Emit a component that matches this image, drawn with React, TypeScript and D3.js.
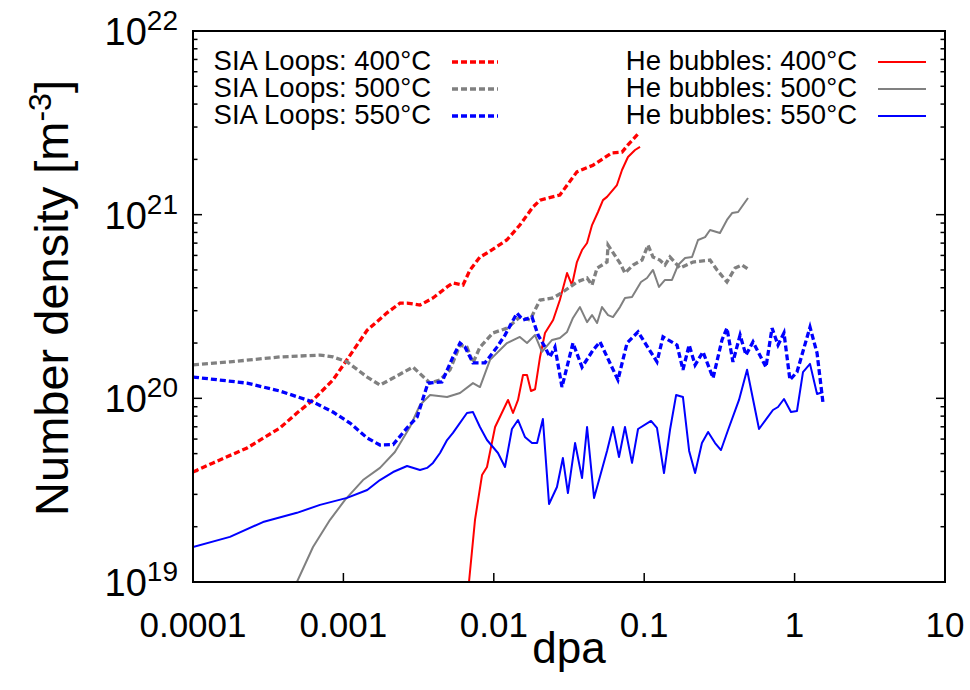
import React from 'react';
import * as d3 from 'd3';

type P = [number, number];

const xTickValues = [1e-4, 1e-3, 1e-2, 1e-1, 1, 10];
const xTickLabels = ['0.0001', '0.001', '0.01', '0.1', '1', '10'];
const yTickExponents = [19, 20, 21, 22];

const siaLabels = ['SIA Loops: 400°C', 'SIA Loops: 500°C', 'SIA Loops: 550°C'];
const heLabels = ['He bubbles: 400°C', 'He bubbles: 500°C', 'He bubbles: 550°C'];
const seriesColors = ['#ff0000', '#808080', '#0000ff'];

const sia400: P[] = [
  [1e-4, 3.97e19], [1.36e-4, 4.45e19], [2.29e-4, 5.37e19], [3.78e-4, 6.89e19], [4.91e-4, 8.32e19],
  [6.28e-4, 9.8e19], [8.53e-4, 1.26e20], [1.0e-3, 1.52e20], [1.44e-3, 2.35e20], [1.95e-3, 2.92e20],
  [2.38e-3, 3.3e20], [2.65e-3, 3.3e20], [3.23e-3, 3.22e20], [3.94e-3, 3.52e20], [4.89e-3, 4.04e20],
  [5.36e-3, 4.25e20], [6.24e-3, 4.14e20], [6.95e-3, 5.0e20], [8.09e-3, 5.88e20], [9.01e-3, 6.18e20],
  [1.22e-2, 7.28e20], [1.49e-2, 8.78e20], [1.82e-2, 1.1e21], [2.03e-2, 1.2e21], [2.75e-2, 1.28e21],
  [3.57e-2, 1.71e21], [4.57e-2, 1.86e21], [6.11e-2, 2.17e21], [7.12e-2, 2.19e21], [7.8e-2, 2.4e21],
  [9.1e-2, 2.75e21],
];

const sia500: P[] = [
  [1e-4, 1.52e20], [1.76e-4, 1.58e20], [3.78e-4, 1.68e20], [6.99e-4, 1.72e20], [8.53e-4, 1.68e20],
  [1.057e-3, 1.58e20], [1.44e-3, 1.306e20], [1.75e-3, 1.18e20], [2.14e-3, 1.29e20], [2.9e-3, 1.48e20],
  [3.77e-3, 1.21e20], [4.39e-3, 1.26e20], [5.11e-3, 1.43e20], [5.96e-3, 1.95e20], [6.63e-3, 1.9e20],
  [7.27e-3, 1.56e20], [8.09e-3, 1.9e20], [9.88e-3, 2.27e20], [1.224e-2, 2.41e20], [1.49e-2, 2.77e20],
  [1.74e-2, 2.67e20], [2.03e-2, 3.43e20], [2.48e-2, 3.52e20], [2.88e-2, 3.79e20], [3.57e-2, 4.3e20],
  [4.17e-2, 4.52e20], [4.5e-2, 4.14e20], [4.86e-2, 5.12e20], [5.66e-2, 5.52e20], [5.75e-2, 6.83e20],
  [6.9e-2, 5.45e20], [7.45e-2, 4.81e20], [8.43e-2, 5.32e20], [9.67e-2, 5.66e20], [1.06e-1, 6.83e20],
  [1.144e-1, 5.88e20], [1.27e-1, 5.66e20], [1.375e-1, 5.32e20], [1.484e-1, 5.88e20], [1.73e-1, 5.12e20],
  [2.11e-1, 5.52e20], [2.74e-1, 5.66e20], [3.05e-1, 5.0e20], [3.55e-1, 4.3e20], [4.02e-1, 5.12e20],
  [4.47e-1, 5.32e20], [4.9e-1, 5.06e20],
];

const sia550: P[] = [
  [1e-4, 1.306e20], [2.29e-4, 1.21e20], [3.78e-4, 1.096e20], [6.28e-4, 9.55e19], [8.53e-4, 8.42e19],
  [1.106e-3, 7.34e19], [1.44e-3, 6.08e19], [1.75e-3, 5.57e19], [2.14e-3, 5.6e19], [2.65e-3, 6.9e19],
  [3.09e-3, 7.91e19], [3.65e-3, 1.21e20], [4.52e-3, 1.227e20], [5.35e-3, 1.68e20], [5.96e-3, 2.0e20],
  [6.44e-3, 1.9e20], [7.27e-3, 1.56e20], [8.74e-3, 1.56e20], [1.05e-2, 1.9e20], [1.187e-2, 2.21e20],
  [1.426e-2, 2.91e20], [1.564e-2, 2.67e20], [1.795e-2, 2.77e20], [1.97e-2, 2.21e20], [2.19e-2, 1.9e20],
  [2.36e-2, 1.68e20], [2.55e-2, 1.9e20], [2.84e-2, 1.152e20], [3.36e-2, 2.0e20], [3.86e-2, 1.48e20],
  [4.57e-2, 1.83e20], [5.08e-2, 2.03e20], [6.69e-2, 1.26e20], [7.69e-2, 2.0e20], [9.1e-2, 2.3e20],
  [1.216e-1, 1.58e20], [1.334e-1, 2.16e20], [1.652e-1, 1.95e20], [1.81e-1, 1.43e20], [1.99e-1, 1.95e20],
  [2.18e-1, 1.52e20], [2.46e-1, 1.79e20], [2.87e-1, 1.29e20], [3.29e-1, 2.08e20], [3.55e-1, 2.41e20],
  [3.89e-1, 1.58e20], [4.34e-1, 2.21e20], [4.75e-1, 1.72e20], [5.29e-1, 2.03e20], [6.45e-1, 1.48e20],
  [7.08e-1, 2.41e20], [7.76e-1, 1.95e20], [8.5e-1, 2.27e20], [9.31e-1, 1.26e20], [1.037, 1.39e20],
  [1.266, 2.44e20], [1.41, 1.765e20], [1.545, 9.43e19],
];

const he400: P[] = [
  [6.84e-3, 1.0e19], [7.5e-3, 2.18e19], [8.35e-3, 3.82e19], [9.01e-3, 4.23e19], [1.02e-2, 6.98e19],
  [1.243e-2, 9.8e19], [1.342e-2, 8.32e19], [1.449e-2, 9.8e19], [1.564e-2, 1.34e20], [1.663e-2, 1.34e20],
  [1.767e-2, 1.096e20], [1.88e-2, 1.12e20], [2.03e-2, 1.68e20], [2.19e-2, 2.27e20], [2.48e-2, 2.67e20],
  [2.75e-2, 3.43e20], [3.07e-2, 4.81e20], [3.31e-2, 4.14e20], [3.57e-2, 5.52e20], [3.86e-2, 6.42e20],
  [4.17e-2, 7.01e20], [4.5e-2, 8.78e20], [4.93e-2, 1.034e21], [5.32e-2, 1.2e21], [5.66e-2, 1.25e21],
  [6.59e-2, 1.45e21], [7.12e-2, 1.75e21], [7.8e-2, 2.06e21], [8.69e-2, 2.25e21], [9.38e-2, 2.34e21],
];

const he500: P[] = [
  [4.91e-4, 1.0e19], [6.28e-4, 1.55e19], [8.15e-4, 2.18e19], [1.025e-3, 2.8e19], [1.35e-3, 3.59e19],
  [1.75e-3, 4.18e19], [2.2e-3, 5.1e19], [2.77e-3, 6.98e19], [3.23e-3, 9.2e19], [3.77e-3, 1.042e20],
  [4.89e-3, 1.016e20], [5.96e-3, 1.069e20], [7.27e-3, 1.21e20], [8.09e-3, 1.152e20], [9.44e-3, 1.62e20],
  [1.224e-2, 2.0e20], [1.49e-2, 2.16e20], [1.663e-2, 2.0e20], [1.88e-2, 2.21e20], [2.09e-2, 1.79e20],
  [2.44e-2, 2.08e20], [2.75e-2, 2.13e20], [3.07e-2, 2.3e20], [3.36e-2, 2.74e20], [3.74e-2, 3.14e20],
  [4.17e-2, 2.6e20], [4.5e-2, 2.84e20], [4.86e-2, 2.57e20], [5.24e-2, 3.14e20], [5.75e-2, 2.84e20],
  [6.2e-2, 2.77e20], [6.9e-2, 3.14e20], [7.45e-2, 3.52e20], [8.3e-2, 3.56e20], [9.52e-2, 4.3e20],
  [1.044e-1, 4.52e20], [1.144e-1, 5.0e20], [1.254e-1, 4.04e20], [1.375e-1, 4.41e20], [1.53e-1, 4.41e20],
  [1.68e-1, 5.32e20], [1.87e-1, 5.81e20], [2.08e-1, 5.88e20], [2.28e-1, 7.28e20], [2.54e-1, 7.55e20],
  [2.74e-1, 8.25e20], [3.19e-1, 7.94e20], [3.55e-1, 9.36e20], [3.84e-1, 1.02e21], [4.21e-1, 1.034e21],
  [4.9e-1, 1.233e21],
];

const he550: P[] = [
  [1e-4, 1.55e19], [1.76e-4, 1.76e19], [2.92e-4, 2.12e19], [4.91e-4, 2.38e19], [6.99e-4, 2.63e19],
  [1.057e-3, 2.87e19], [1.44e-3, 3.17e19], [1.75e-3, 3.59e19], [2.14e-3, 3.97e19], [2.65e-3, 4.28e19],
  [3.23e-3, 4.07e19], [3.6e-3, 4.18e19], [3.94e-3, 4.45e19], [4.39e-3, 5.04e19], [4.89e-3, 5.93e19],
  [5.35e-3, 6.48e19], [6.63e-3, 8.32e19], [7.27e-3, 8.42e19], [8.09e-3, 6.98e19], [9.01e-3, 5.93e19],
  [1.066e-2, 5.04e19], [1.187e-2, 4.23e19], [1.32e-2, 6.81e19], [1.449e-2, 7.62e19], [1.61e-2, 6.16e19],
  [1.795e-2, 5.71e19], [1.94e-2, 5.71e19], [2.12e-2, 7.72e19], [2.33e-2, 2.66e19], [2.63e-2, 3.29e19],
  [2.88e-2, 4.73e19], [3.11e-2, 3.05e19], [3.47e-2, 5.71e19], [3.86e-2, 3.68e19], [4.17e-2, 6.98e19],
  [4.64e-2, 2.87e19], [5.66e-2, 5.17e19], [6.2e-2, 6.98e19], [6.8e-2, 4.79e19], [7.45e-2, 6.98e19],
  [8.3e-2, 4.45e19], [9.1e-2, 6.81e19], [1.11e-1, 7.53e19], [1.216e-1, 6.9e19], [1.354e-1, 3.92e19],
  [1.484e-1, 6.72e19], [1.63e-1, 1.042e20], [1.81e-1, 1.016e20], [1.99e-1, 5.17e19], [2.18e-1, 3.92e19],
  [2.42e-1, 5.71e19], [2.66e-1, 6.56e19], [2.96e-1, 5.71e19], [3.24e-1, 5.23e19], [3.61e-1, 6.72e19],
  [4.27e-1, 9.8e19], [4.83e-1, 1.43e20], [5.8e-1, 6.81e19], [6.55e-1, 7.81e19], [7.18e-1, 8.64e19],
  [7.76e-1, 8.97e19], [8.5e-1, 9.92e19], [9.46e-1, 8.42e19], [1.037, 8.53e19], [1.137, 1.39e20],
  [1.266, 1.54e20], [1.41, 1.055e20], [1.545, 1.082e20],
];

const W = 970;
const H = 690;
const left = 193, right = 945, top = 31, bottom = 582;
const FONT = '"Liberation Sans", Arial, Helvetica, sans-serif';

export default function App() {
  const x = d3.scaleLog().domain([1e-4, 10]).range([left, right]);
  const y = d3.scaleLog().domain([1e19, 1e22]).range([bottom, top]);
  const line = d3.line<P>().x((d) => x(d[0])).y((d) => y(d[1]));

  const minorY: number[] = [];
  for (let e = 19; e < 22; e++) {
    for (let k = 2; k <= 9; k++) minorY.push(k * Math.pow(10, e));
  }

  const dashed = [sia400, sia500, sia550];
  const solid = [he400, he500, he550];
  const dash = '6,3';

  return (
    <svg width={W} height={H} style={{ position: 'absolute', left: 0, top: 0, background: '#fff' }} fontFamily={FONT}>
      <rect x={0} y={0} width={W} height={H} fill="#fff" />
      <defs>
        <clipPath id="plotclip">
          <rect x={left} y={top} width={right - left} height={bottom - top} />
        </clipPath>
      </defs>

      {yTickExponents.map((e) => {
        const yy = y(Math.pow(10, e));
        return (
          <g key={'yt' + e}>
            <line x1={left} x2={left + 9} y1={yy} y2={yy} stroke="#000" strokeWidth={1.5} />
            <line x1={right} x2={right - 9} y1={yy} y2={yy} stroke="#000" strokeWidth={1.5} />
            <text x={178} y={yy + 14} textAnchor="end" fontSize={38} fill="#000">
              10<tspan dy={-15} fontSize={28}>{e}</tspan>
            </text>
          </g>
        );
      })}
      {minorY.map((v, i) => (
        <g key={'ym' + i}>
          <line x1={left} x2={left + 4.5} y1={y(v)} y2={y(v)} stroke="#000" strokeWidth={1.5} />
          <line x1={right} x2={right - 4.5} y1={y(v)} y2={y(v)} stroke="#000" strokeWidth={1.5} />
        </g>
      ))}

      {xTickValues.map((v, i) => (
        <g key={'xt' + i}>
          <line x1={x(v)} x2={x(v)} y1={bottom} y2={bottom - 9} stroke="#000" strokeWidth={1.5} />
          <text x={x(v)} y={637} textAnchor="middle" fontSize={35} fill="#000">
            {xTickLabels[i]}
          </text>
        </g>
      ))}

      <g clipPath="url(#plotclip)">
        {solid.map((s, i) => (
          <path key={'s' + i} d={line(s) || ''} fill="none" stroke={seriesColors[i]} strokeWidth={2} strokeLinejoin="round" />
        ))}
        {dashed.map((s, i) => (
          <path key={'d' + i} d={line(s) || ''} fill="none" stroke={seriesColors[i]} strokeWidth={3.3} strokeDasharray={dash} />
        ))}
      </g>

      <rect x={left} y={top} width={right - left} height={bottom - top} fill="none" stroke="#000" strokeWidth={2} />

      {siaLabels.map((t, i) => (
        <g key={'ls' + i}>
          <text x={431} y={70 + i * 27} textAnchor="end" fontSize={27.5} fill="#000">{t}</text>
          <line x1={452} x2={498} y1={62 + i * 27} y2={62 + i * 27} stroke={seriesColors[i]} strokeWidth={3.3} strokeDasharray={dash} />
        </g>
      ))}
      {heLabels.map((t, i) => (
        <g key={'lh' + i}>
          <text x={857} y={70 + i * 27} textAnchor="end" fontSize={27.5} fill="#000">{t}</text>
          <line x1={878} x2={926} y1={62 + i * 27} y2={62 + i * 27} stroke={seriesColors[i]} strokeWidth={2} />
        </g>
      ))}

      <text x={(left + right) / 2} y={663} textAnchor="middle" fontSize={44} fill="#000">dpa</text>
      <text transform="translate(68,298) rotate(-90)" textAnchor="middle" fontSize={47} fill="#000">
        Number density [m<tspan dy={-17} fontSize={32}>-3</tspan><tspan dy={17}>]</tspan>
      </text>
    </svg>
  );
}
